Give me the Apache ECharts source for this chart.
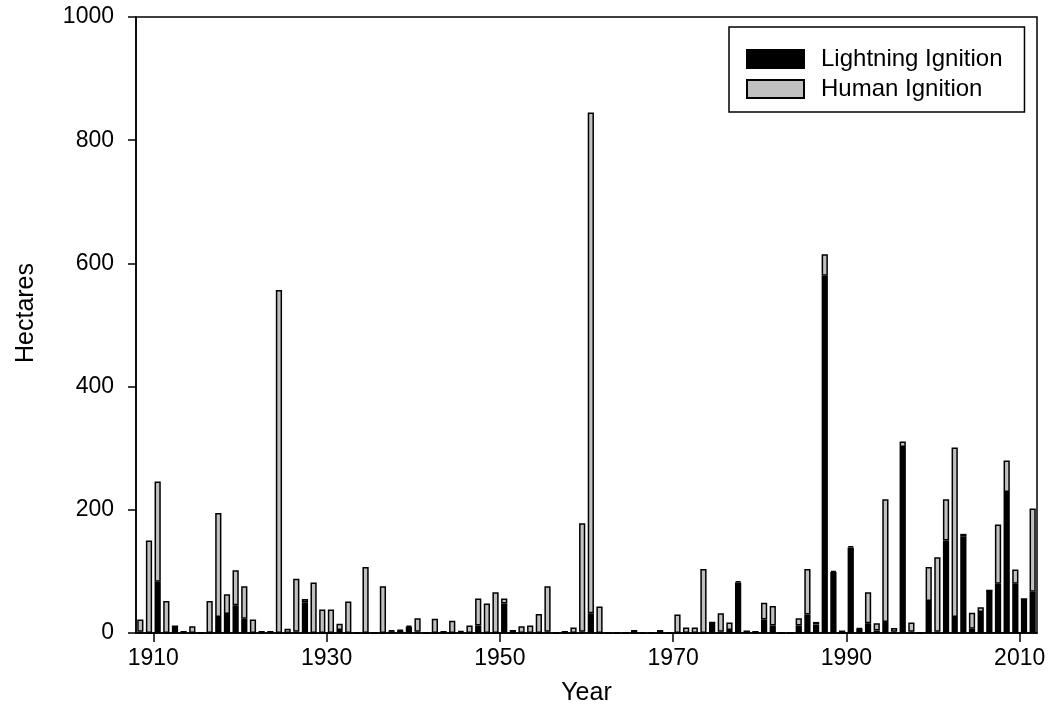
<!DOCTYPE html>
<html>
<head>
<meta charset="utf-8">
<script src="https://cdn.jsdelivr.net/npm/echarts@6/dist/echarts.min.js"></script>
<style>
  html, body { margin: 0; padding: 0; background: #fff; }
  #chart { width: 1053px; height: 709px; }
</style>
</head>
<body>
<div id="chart"></div>
<script>
// burned area per year, hectares
const years = [
  1908, 1909, 1910, 1911, 1912, 1913, 1914, 1915, 1916, 1917,
  1918, 1919, 1920, 1921, 1922, 1923, 1924, 1925, 1926, 1927,
  1928, 1929, 1930, 1931, 1932, 1933, 1934, 1935, 1936, 1937,
  1938, 1939, 1940, 1941, 1942, 1943, 1944, 1945, 1946, 1947,
  1948, 1949, 1950, 1951, 1952, 1953, 1954, 1955, 1956, 1957,
  1958, 1959, 1960, 1961, 1962, 1963, 1964, 1965, 1966, 1967,
  1968, 1969, 1970, 1971, 1972, 1973, 1974, 1975, 1976, 1977,
  1978, 1979, 1980, 1981, 1982, 1983, 1984, 1985, 1986, 1987,
  1988, 1989, 1990, 1991, 1992, 1993, 1994, 1995, 1996, 1997,
  1998, 1999, 2000, 2001, 2002, 2003, 2004, 2005, 2006, 2007,
  2008, 2009, 2010, 2011
]

const lightning = [
  2, 0, 83, 0, 11, 2, 0, 0, 0, 26,
  31, 45, 23, 0, 2, 2, 0, 0, 2, 50,
  0, 0, 0, 5, 0, 0, 0, 0, 0, 3,
  4, 10, 2, 0, 0, 2, 0, 2, 0, 12,
  0, 0, 48, 0, 0, 0, 0, 2, 0, 2,
  0, 2, 32, 0, 0, 0, 0, 0, 0, 0,
  0, 0, 0, 0, 0, 0, 17, 2, 5, 82,
  3, 2, 22, 12, 0, 0, 12, 30, 14, 580,
  99, 0, 139, 7, 16, 4, 18, 2, 302, 2,
  0, 52, 2, 150, 26, 157, 7, 34, 69, 80,
  229, 80, 55, 67
]

const human = [
  20, 150, 163, 52, 0, 0, 11, 0, 52, 169,
  32, 57, 53, 22, 0, 0, 557, 7, 86, 5,
  82, 38, 38, 10, 51, 0, 107, 0, 76, 1,
  1, 2, 22, 0, 23, 0, 20, 1, 12, 44,
  48, 66, 8, 5, 11, 12, 31, 74, 0, 0,
  9, 176, 813, 43, 0, 0, 0, 5, 0, 0,
  5, 0, 30, 9, 9, 104, 0, 30, 12, 2,
  0, 0, 27, 32, 0, 0, 12, 74, 4, 35,
  2, 4, 2, 1, 50, 12, 199, 6, 9, 15,
  0, 55, 121, 67, 275, 4, 26, 8, 0, 96,
  51, 23, 0, 135
]

const yearTicks = [1910, 1930, 1950, 1970, 1990, 2010]

const chart = echarts.init(document.getElementById('chart'), null, { renderer: 'canvas' })

const fontFamily = '"Liberation Sans", Arial, sans-serif'
const lineStyle = { color: '#000', width: 1.5 }
const plain = (v) => String(v)

const option = {
  animation: false,
  backgroundColor: '#fff',
  textStyle: { fontFamily: fontFamily, color: '#000' },
  grid: {
    show: true,
    left: 136,
    right: 16,
    top: 17,
    bottom: 76,
    outerBoundsMode: 'none',
    containLabel: false,
    borderColor: '#000',
    borderWidth: 1.5,
    backgroundColor: 'transparent'
  },
  legend: {
    data: ['Lightning Ignition', 'Human Ignition'],
    orient: 'vertical',
    left: 729,
    top: 27,
    padding: [20, 22, 11, 17],
    itemWidth: 57,
    itemHeight: 18,
    itemGap: 6,
    icon: 'rect',
    borderColor: '#000',
    borderWidth: 1.5,
    textStyle: {
      fontFamily: fontFamily,
      fontSize: 24,
      color: '#000',
      lineHeight: 18,
      padding: [0, 0, 0, 12]
    }
  },
  xAxis: [
    {
      // bars sit in one band per year
      type: 'category',
      data: years,
      boundaryGap: true,
      axisLine: { show: false },
      axisTick: { show: false },
      axisLabel: { show: false },
      splitLine: { show: false }
    },
    {
      // visible year scale
      type: 'value',
      min: 1908,
      max: 2012,
      position: 'bottom',
      name: 'Year',
      nameLocation: 'middle',
      nameGap: 48,
      nameTextStyle: { fontSize: 25, color: '#000', fontFamily: fontFamily },
      axisLine: { show: true, lineStyle: lineStyle },
      axisTick: { show: true, inside: false, length: 9, lineStyle: lineStyle, customValues: yearTicks },
      axisLabel: { fontSize: 23, color: '#000', margin: 14, customValues: yearTicks, formatter: plain },
      splitLine: { show: false }
    }
  ],
  yAxis: {
    type: 'value',
    min: 0,
    max: 1000,
    interval: 200,
    name: 'Hectares',
    nameLocation: 'middle',
    nameGap: 97,
    nameRotate: 90,
    nameTextStyle: { fontSize: 25, color: '#000', fontFamily: fontFamily, padding: [0, 0, 0, 24] },
    axisLine: { show: true, lineStyle: lineStyle },
    axisTick: { show: true, inside: false, length: 8, lineStyle: lineStyle },
    axisLabel: { fontSize: 23, color: '#000', margin: 22, formatter: plain },
    splitLine: { show: false }
  },
  series: [
    {
      name: 'Lightning Ignition',
      type: 'bar',
      stack: 'total',
      xAxisIndex: 0,
      data: lightning,
      barCategoryGap: '28%',
      itemStyle: { color: '#000', borderColor: '#000', borderWidth: 1.5 }
    },
    {
      name: 'Human Ignition',
      type: 'bar',
      stack: 'total',
      xAxisIndex: 0,
      data: human,
      barCategoryGap: '28%',
      itemStyle: { color: '#c0c0c0', borderColor: '#000', borderWidth: 1.5 }
    }
  ]
}

chart.setOption(option)
</script>
</body>
</html>
